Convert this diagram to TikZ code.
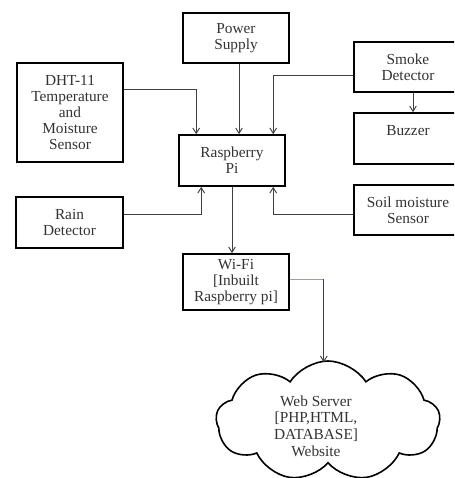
\documentclass[tikz,border=0pt]{standalone}
\usepackage{fontspec}
\setmainfont{Liberation Serif}
\usetikzlibrary{arrows.meta,calc,shapes.symbols}
\tikzset{
  blk/.style={draw=black,line width=1.2pt,rectangle,align=center,inner sep=1pt,
    font=\fontsize{11.5}{12}\selectfont,text=black!80},
  arr/.style={draw=black!75,line width=0.7pt,-{Straight Barb[length=4pt,width=5pt]}},
  bline/.style={draw=black!40!blue!40!white,line width=0.7pt},
  cloudshape/.style={draw=black,line width=1.2pt,cloud,cloud puffs=9,cloud puff arc=115,aspect=1.9}
}
\begin{document}
\begin{tikzpicture}[x=0.75pt,y=-0.75pt]
\clip (0,0) rectangle (454,478);
\fill[white] (0,0) rectangle (454,478);
\node[blk,minimum width=106*0.75pt,minimum height=50*0.75pt] (power) at (236,38) {Power\\Supply};
\node[blk,minimum width=108*0.75pt,minimum height=50*0.75pt] (smoke) at (408,67) {Smoke\\Detector};
\node[blk,minimum width=108*0.75pt,minimum height=51*0.75pt] (buzzer) at (408,138.5) {Buzzer\\\mbox{}};
\node[blk,minimum width=106*0.75pt,minimum height=99*0.75pt] (dht) at (70,112.5) {DHT-11\\Temperature\\and\\Moisture\\Sensor};
\node[blk,minimum width=106*0.75pt,minimum height=51*0.75pt] (rpi) at (232,160.5) {Raspberry\\Pi};
\node[blk,minimum width=107*0.75pt,minimum height=51*0.75pt] (rain) at (69.5,222.5) {Rain\\Detector};
\node[blk,minimum width=108*0.75pt,minimum height=50*0.75pt] (soil) at (408,210) {Soil moisture\\Sensor};
\node[blk,minimum width=106*0.75pt,minimum height=56*0.75pt] (wifi) at (236,282) {Wi-Fi\\{[}Inbuilt\\Raspberry pi{]}};
\node[cloudshape,minimum width=224*0.75pt,minimum height=120*0.75pt] (cloud) at (328,421) {};
\node[align=center,font=\fontsize{11.5}{12.5}\selectfont,text=black!80] (cloudtxt) at (316,426) {Web Server\\{[}PHP,HTML,\\DATABASE{]}\\Website};
% connectors
\draw[arr] ($(dht.north east)+(0,27)$) -| ($(rpi.north west)+(18,0)$);
\draw[arr] ($(power.south)+(3,0)$) -- ($(rpi.north)+(7,0)$);
\draw[arr] ($(smoke.north west)+(0,34)$) -| ($(rpi.north west)+(95,0)$);
\draw[arr] ($(smoke.south)+(5,0)$) -- ($(buzzer.north)+(5,0)$);
\draw[arr] ($(rain.north east)+(0,18)$) -| ($(rpi.south west)+(23,0)$);
\draw[arr] ($(soil.north west)+(0,30)$) -| ($(rpi.south west)+(95,0)$);
\draw[arr] (rpi.south) -- (rpi.south |- wifi.north);
\draw[bline] ($(wifi.north east)+(0,26)$) -- ($(wifi.north east)+(34,26)$) coordinate (bend);
\draw[arr] (bend) -- ($(bend)+(0,83)$);
\end{tikzpicture}
\end{document}
